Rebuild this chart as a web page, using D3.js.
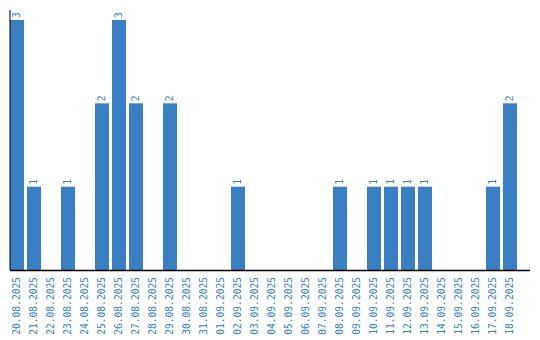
<!DOCTYPE html>
<html>
<head>
<meta charset="utf-8">
<script src="https://cdn.jsdelivr.net/npm/d3@7"></script>
<style>
  body { margin: 0; background: #fff; }
  .lbl { font-family: "DejaVu Sans Mono", monospace; font-size: 9.6px; fill: #3a7fc3; }
</style>
</head>
<body>
<div id="container"></div>
<script>
var totalWidth = 540,
    totalHeight = 340;

var dates = ["20.08.2025", "21.08.2025", "22.08.2025", "23.08.2025", "24.08.2025",
             "25.08.2025", "26.08.2025", "27.08.2025", "28.08.2025", "29.08.2025",
             "30.08.2025", "31.08.2025", "01.09.2025", "02.09.2025", "03.09.2025",
             "04.09.2025", "05.09.2025", "06.09.2025", "07.09.2025", "08.09.2025",
             "09.09.2025", "10.09.2025", "11.09.2025", "12.09.2025", "13.09.2025",
             "14.09.2025", "15.09.2025", "16.09.2025", "17.09.2025", "18.09.2025"];
var counts = [3, 1, 0, 1, 0, 2, 3, 2, 0, 2,
              0, 0, 0, 1, 0, 0, 0, 0, 0, 1,
              0, 1, 1, 1, 1, 0, 0, 0, 1, 2];

var barColor = "#3a7fc3";

var data = dates.map(function(d, i) { return {date: d, value: counts[i]}; });

// scales
var xScale = d3.scaleBand()
               .domain(dates)
               .range([10, 520])
               .paddingInner(3 / 17)
               .paddingOuter(1.5 / 17)
               .align(0);

var yScale = d3.scaleLinear()
               .domain([0, 3.12])
               .range([270, 10]);

var svg = d3.select("#container")
            .append("svg")
            .attr("width", totalWidth)
            .attr("height", totalHeight);

// bars
svg.append("g")
   .attr("class", "bars")
   .selectAll(".bar")
   .data(data.filter(function(d) { return d.value > 0; })).enter()
   .append("rect").attr("class", "bar")
   .attr("x", function(d) { return xScale(d.date); })
   .attr("width", xScale.bandwidth())
   .attr("y", function(d) { return yScale(d.value); })
   .attr("height", function(d) { return yScale(0) - yScale(d.value); })
   .attr("fill", barColor);

// value labels
svg.append("g")
   .selectAll("text")
   .data(data.filter(function(d) { return d.value > 0; })).enter()
   .append("text").attr("class", "lbl")
   .attr("transform", function(d) {
     return "translate(" + (xScale(d.date) + xScale.bandwidth() / 2) + "," + (yScale(d.value) - 2) + ") rotate(-90)";
   })
   .attr("text-anchor", "start")
   .attr("dy", "0.35em")
   .text(function(d) { return d.value; });

// x axis labels
var xAxis = d3.axisBottom(xScale).tickSize(0).tickPadding(0);
var gx = svg.append("g")
   .attr("transform", "translate(0," + yScale(0) + ")")
   .call(xAxis);
gx.select(".domain").remove();
gx.attr("font-family", null).attr("font-size", null);
gx.selectAll("text")
  .attr("class", "lbl")
  .attr("fill", null)
  .attr("text-anchor", "end")
  .attr("transform", "rotate(-90)")
  .attr("x", -7)
  .attr("y", 0)
  .attr("dy", "0.35em");

// axis lines
svg.append("line")
   .attr("x1", 10).attr("x2", 10)
   .attr("y1", yScale(3.12)).attr("y2", yScale(0))
   .attr("stroke", "#000");
svg.append("line")
   .attr("x1", 10).attr("x2", 530)
   .attr("y1", yScale(0) + 0.5).attr("y2", yScale(0) + 0.5)
   .attr("stroke", "#000")
   .attr("stroke-width", 1.5);
</script>
</body>
</html>
